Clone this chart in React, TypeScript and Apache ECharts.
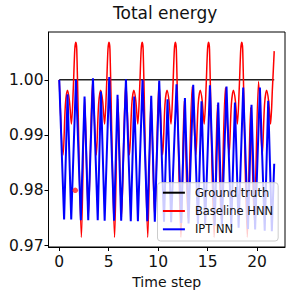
import React, { useEffect, useRef } from "react";
import * as echarts from "echarts";

const xTicks = [0, 5, 10, 15, 20];
const yTicks = [0.97, 0.98, 0.99, 1.0];

const groundT = [0, 21.73];
const groundE = [1.0, 1.0];

const redT = [
  0, 0.39, 0.62, 0.83, 1.03, 1.23, 1.42, 1.57, 1.67, 1.77, 2.24, 2.57, 2.94, 3.375,
  3.745, 3.975, 4.185, 4.385, 4.585, 4.775, 4.925, 5.025, 5.125, 5.595, 5.925, 6.295, 6.73,
  7.1, 7.33, 7.54, 7.74, 7.94, 8.13, 8.28, 8.38, 8.48, 8.95, 9.28, 9.65, 10.085,
  10.455, 10.685, 10.895, 11.095, 11.295, 11.485, 11.635, 11.735, 11.835, 12.305, 12.635, 13.005, 13.44,
  13.81, 14.04, 14.25, 14.45, 14.65, 14.84, 14.99, 15.09, 15.19, 15.66, 15.99, 16.36, 16.795,
  17.165, 17.395, 17.605, 17.805, 18.005, 18.195, 18.345, 18.445, 18.545, 19.015, 19.345, 19.715, 20.15,
  20.52, 20.75, 20.96, 21.16, 21.36, 21.55, 21.73,
];
const redE = [
  1.0, 0.9864, 0.9955, 0.9981, 0.9962, 0.992, 0.9985, 1.0055, 1.0068, 1.0055, 0.9715, 0.9966, 0.9752, 0.9998,
  0.9864, 0.9955, 0.9981, 0.9962, 0.992, 0.9985, 1.0055, 1.0068, 1.0055, 0.9715, 0.9966, 0.9752, 0.9996,
  0.9864, 0.9955, 0.9981, 0.9962, 0.992, 0.9985, 1.0055, 1.0068, 1.0055, 0.9715, 0.9966, 0.9751, 0.9995,
  0.9864, 0.9955, 0.9981, 0.9962, 0.992, 0.9985, 1.0055, 1.0068, 1.0055, 0.9715, 0.9962, 0.975, 0.9988,
  0.9864, 0.9955, 0.9981, 0.9962, 0.992, 0.9985, 1.0055, 1.0068, 1.0055, 0.9715, 0.9955, 0.9748, 0.9986,
  0.9864, 0.9955, 0.9981, 0.9962, 0.992, 0.9985, 1.0055, 1.0068, 1.0055, 0.9715, 0.995, 0.9746, 0.9997,
  0.9864, 0.9955, 0.9981, 0.9962, 0.992, 0.9985, 1.0052,
];

const blueT = [
  0.0, 0.49, 0.839, 1.21, 1.688, 2.18, 2.557, 2.93, 3.406, 3.89, 4.214, 4.59, 5.053, 5.54,
  5.892, 6.26, 6.741, 7.23, 7.58, 7.95, 8.418, 8.9, 9.298, 9.66, 10.106, 10.59, 10.945, 11.31,
  11.854, 12.33, 12.703, 13.07, 13.542, 14.02, 14.381, 14.75, 15.23, 15.71, 16.069, 16.44,
  16.908, 17.39, 17.757, 18.13, 18.595, 19.08, 19.434, 19.8, 20.283, 20.77, 21.122, 21.49, 21.73,
];
const blueE = [
  1.0, 0.9747, 0.9974, 0.9747, 1.0, 0.9746, 0.997, 0.9746, 1.0003, 0.9746, 0.9979, 0.9745, 1.0005, 0.9745,
  0.9973, 0.9745, 1.0001, 0.9744, 0.997, 0.9744, 1.0, 0.9744, 0.9971, 0.9743, 0.9999, 0.9743, 0.9965, 0.9742,
  0.9992, 0.9741, 0.9967, 0.974, 0.9991, 0.9739, 0.9961, 0.9738, 0.999, 0.9736, 0.9959, 0.9735,
  0.9988, 0.9733, 0.9959, 0.9732, 0.9986, 0.973, 0.9955, 0.9729, 0.9986, 0.9727, 0.9962, 0.9726, 0.9848,
];

const dotT = [1.62];
const dotE = [0.98];

const pairs = (t: number[], e: number[]) => t.map((v, i) => [v, e[i]]);

const FONT = "DejaVu Sans";

export default function App() {
  const ref = useRef<HTMLDivElement>(null);
  useEffect(() => {
    if (!ref.current) return;
    const chart = echarts.init(ref.current, undefined, { renderer: "svg" });
    chart.setOption({
      animation: false,
      backgroundColor: "#ffffff",
      title: {
        text: "Total energy",
        left: 113,
        top: 4,
        padding: 0,
        textStyle: { fontFamily: FONT, fontSize: 17, fontWeight: "normal", color: "#111" },
      },
      grid: {
        left: 48.5,
        right: 9,
        top: 32,
        bottom: 48,
        show: true,
        borderColor: "#000",
        borderWidth: 1,
        backgroundColor: "transparent",
        containLabel: false,
        outerBoundsMode: "none",
      },
      legend: {
        data: ["Ground truth", "Baseline HNN", "IPT NN"],
        orient: "vertical",
        left: 157.5,
        top: 182.7,
        padding: [3, 5, 4.7, 5.4],
        itemWidth: 22,
        itemHeight: 2,
        itemGap: 4.3,
        icon: "rect",
        selectedMode: false,
        backgroundColor: "rgba(255,255,255,0.8)",
        borderColor: "#cccccc",
        borderWidth: 1,
        borderRadius: 3,
        textStyle: {
          fontFamily: FONT,
          fontSize: 11.5,
          lineHeight: 14,
          color: "#111",
          padding: [0, 0, 0, 5],
        },
      },
      xAxis: {
        type: "value",
        min: -1.087,
        max: 22.82,
        name: "Time step",
        nameLocation: "middle",
        nameGap: 28,
        nameTextStyle: { fontFamily: FONT, fontSize: 14, color: "#111" },
        axisLine: { show: true, onZero: false, lineStyle: { color: "#000", width: 1 } },
        axisTick: { show: true, length: 4, customValues: xTicks, lineStyle: { color: "#000" } },
        axisLabel: {
          customValues: xTicks,
          margin: 7,
          fontFamily: FONT,
          fontSize: 15.5,
          color: "#111",
        },
        splitLine: { show: false },
      },
      yAxis: {
        type: "value",
        min: 0.96973,
        max: 1.00867,
        axisLine: { show: true, onZero: false, lineStyle: { color: "#000", width: 1 } },
        axisTick: { show: true, length: 4, customValues: yTicks, lineStyle: { color: "#000" } },
        axisLabel: {
          customValues: yTicks,
          margin: 5,
          fontFamily: FONT,
          fontSize: 15.5,
          color: "#111",
          formatter: (v: number) => v.toFixed(2),
        },
        splitLine: { show: false },
      },
      series: [
        {
          name: "Ground truth",
          type: "line",
          data: pairs(groundT, groundE),
          symbol: "none",
          color: "#000000",
          lineStyle: { color: "#222", width: 1.5 },
        },
        {
          name: "Baseline HNN",
          type: "line",
          data: pairs(redT, redE),
          symbol: "none",
          smooth: 0.3,
          color: "#ff0000",
          lineStyle: { color: "#ff0000", width: 1.5 },
        },
        {
          name: "IPT NN",
          type: "line",
          data: pairs(blueT, blueE),
          symbol: "none",
          color: "#0000ff",
          lineStyle: { color: "#0000ff", width: 2 },
        },
        {
          name: "marker",
          type: "scatter",
          data: pairs(dotT, dotE),
          symbol: "circle",
          symbolSize: 5.5,
          itemStyle: { color: "#ff2020" },
          z: 3,
        },
      ],
    });
    return () => chart.dispose();
  }, []);
  return (
    <div
      ref={ref}
      style={{ position: "fixed", left: 0, top: 0, width: 294, height: 295 }}
    />
  );
}
